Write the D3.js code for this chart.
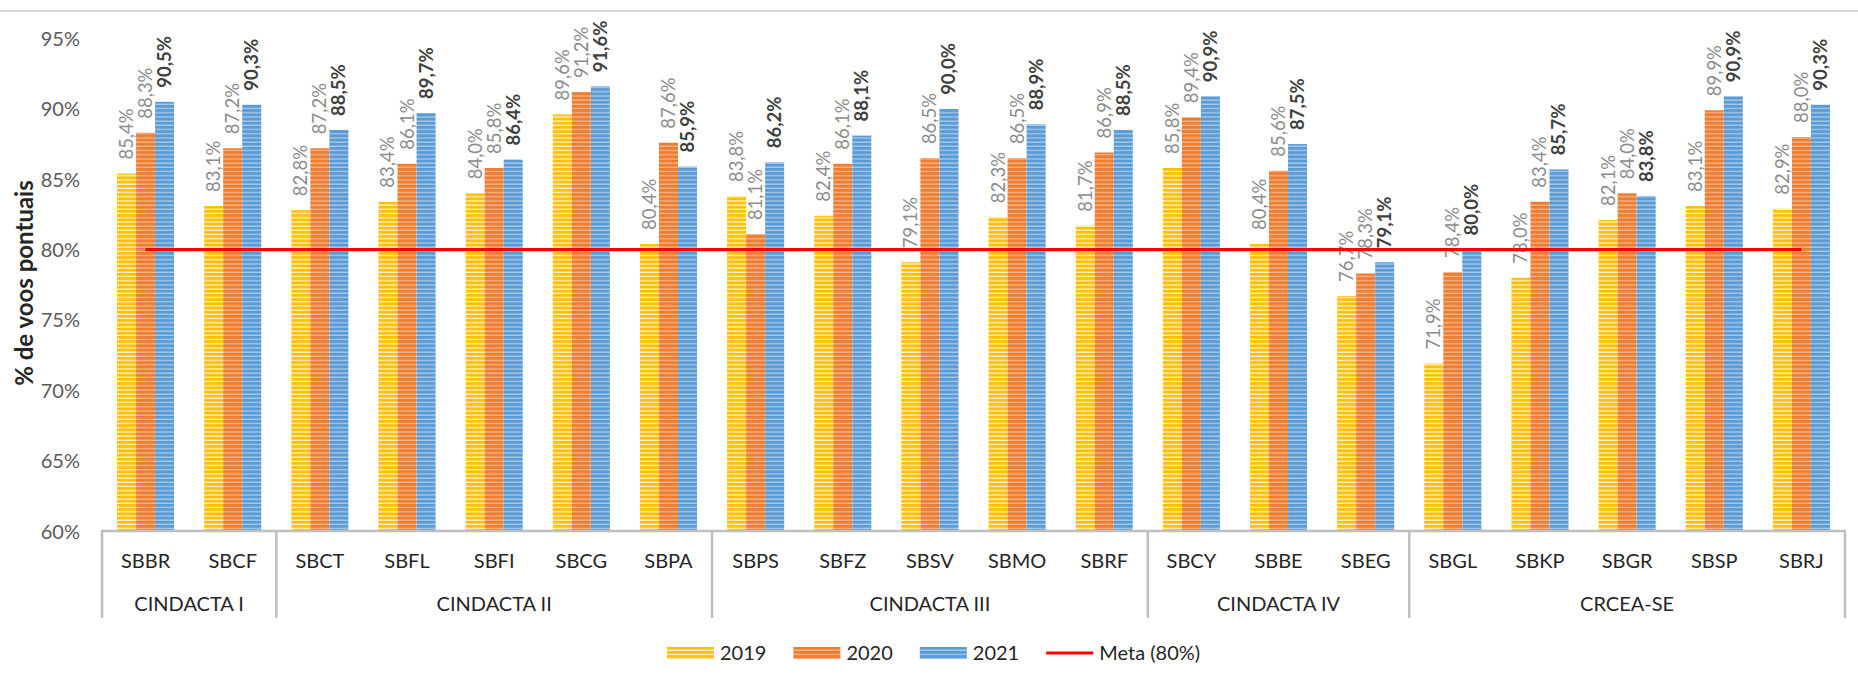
<!DOCTYPE html>
<html>
<head>
<meta charset="utf-8">
<script src="https://cdn.jsdelivr.net/npm/d3@7"></script>
<style>
  html, body { margin: 0; padding: 0; background: #ffffff; }
  svg { display: block; }
  text { font-family: Lato, "Noto Sans", sans-serif; }
</style>
</head>
<body>
<svg id="chart" width="1858" height="685"></svg>
<script>
// ---- data ----
const categories = ["SBBR","SBCF","SBCT","SBFL","SBFI","SBCG","SBPA","SBPS","SBFZ","SBSV","SBMO","SBRF","SBCY","SBBE","SBEG","SBGL","SBKP","SBGR","SBSP","SBRJ"];
const groupNames = ["CINDACTA I","CINDACTA II","CINDACTA III","CINDACTA IV","CRCEA-SE"];
const groupSizes = [2, 5, 5, 3, 5];
const seriesNames = ["2019","2020","2021"];
const values2019 = [85.4,83.1,82.8,83.4,84.0,89.6,80.4,83.8,82.4,79.1,82.3,81.7,85.8,80.4,76.7,71.9,78.0,82.1,83.1,82.9];
const values2020 = [88.3,87.2,87.2,86.1,85.8,91.2,87.6,81.1,86.1,86.5,86.5,86.9,89.4,85.6,78.3,78.4,83.4,84.0,89.9,88.0];
const values2021 = [90.5,90.3,88.5,89.7,86.4,91.6,85.9,86.2,88.1,90.0,88.9,88.5,90.9,87.5,79.1,80.0,85.7,83.8,90.9,90.3];
const metaValue = 80;
const metaLabel = "Meta (80%)";
const yTicks = [60,65,70,75,80,85,90,95];
const yTitle = "% de voos pontuais";

// ---- styles ----
const seriesColors = ["#FFC000","#ED7D31","#5B9BD5"];
const stripeColors = ["#FFF3CF","#F6B48A","#A9CBEA"];

const svg = d3.select("#chart");
const defs = svg.append("defs");
seriesNames.forEach((s, i) => {
  const p = defs.append("pattern").attr("id", "pat" + i)
    .attr("patternUnits", "userSpaceOnUse").attr("width", 8).attr("height", 4.2);
  p.append("rect").attr("width", 8).attr("height", 4.2).attr("fill", stripeColors[i]);
  p.append("rect").attr("width", 8).attr("height", 2.9).attr("fill", seriesColors[i]);
});

// top frame line
svg.append("line").attr("x1", 0).attr("x2", 1858).attr("y1", 11).attr("y2", 11)
  .attr("stroke", "#d9d9d9").attr("stroke-width", 2);

const x = d3.scaleBand().domain(categories).range([102, 1845]).paddingInner(0).paddingOuter(0);
const xs = d3.scaleBand().domain(seriesNames).range([0, x.bandwidth()]).paddingInner(0).paddingOuter(0.79);
const y = d3.scaleLinear().domain([60, 95]).range([531, 38.5]);

const table = categories.map((c, i) => ({ cat: c, vals: [values2019[i], values2020[i], values2021[i]] }));

// y tick labels
const yAxis = d3.axisLeft(y).tickValues(yTicks).tickSize(0).tickPadding(0)
  .tickFormat(d => d + "%");
const gy = svg.append("g").attr("transform", "translate(80,0)").call(yAxis);
gy.select(".domain").remove();
gy.selectAll("text").attr("font-size", 20).attr("fill", "#595959")
  .attr("font-family", "Lato, 'Noto Sans', sans-serif").attr("dy", "0.35em");

// y title
svg.append("text").attr("transform", "translate(25,283) rotate(-90)")
  .attr("text-anchor", "middle").attr("dy", "0.35em")
  .attr("font-size", 24).attr("font-weight", "bold").attr("fill", "#262626")
  .text(yTitle);

// bars
const gBars = svg.append("g");
const catG = gBars.selectAll("g.cat").data(table).join("g")
  .attr("transform", d => `translate(${x(d.cat)},0)`);
catG.selectAll("rect").data(d => d.vals.map((v, i) => ({ v, i }))).join("rect")
  .attr("x", d => xs(seriesNames[d.i]))
  .attr("width", xs.bandwidth())
  .attr("y", d => y(d.v))
  .attr("height", d => y(60) - y(d.v))
  .attr("fill", d => `url(#pat${d.i})`);

// data labels
const fmt = v => v.toFixed(1).replace(".", ",") + "%";
catG.selectAll("text").data(d => d.vals.map((v, i) => ({ v, i }))).join("text")
  .attr("transform", d => `translate(${xs(seriesNames[d.i]) + xs.bandwidth() / 2},${y(d.v) - 14}) rotate(-90)`)
  .attr("dy", "0.35em")
  .attr("font-size", 18.5)
  .attr("font-weight", d => d.i === 2 ? "bold" : "normal")
  .attr("fill", d => d.i === 2 ? "#404040" : "#8c8c8c")
  .text(d => fmt(d.v));

// x axis
const xAxisY = y(60);
svg.append("line").attr("x1", 102).attr("x2", 1845).attr("y1", xAxisY).attr("y2", xAxisY)
  .attr("stroke", "#bfbfbf").attr("stroke-width", 2.5);
const gx = svg.append("g").attr("transform", `translate(0,${xAxisY})`)
  .call(d3.axisBottom(x).tickSize(0).tickPadding(0));
gx.select(".domain").remove();
gx.selectAll("text").attr("y", 30).attr("dy", "0.35em").attr("font-size", 20)
  .attr("fill", "#262626").attr("font-family", "Lato, 'Noto Sans', sans-serif");

// group separators and labels
let idx = 0;
const bounds = [0];
groupSizes.forEach(n => { idx += n; bounds.push(idx); });
const step = x.step();
bounds.forEach(b => {
  const bx = 102 + b * step;
  svg.append("line").attr("x1", bx).attr("x2", bx).attr("y1", xAxisY - 1).attr("y2", 618)
    .attr("stroke", "#bfbfbf").attr("stroke-width", 2.5);
});
groupNames.forEach((g, i) => {
  const cx = 102 + (bounds[i] + bounds[i + 1]) / 2 * step;
  svg.append("text").attr("x", cx).attr("y", 604).attr("dy", "0.35em")
    .attr("text-anchor", "middle").attr("font-size", 20).attr("fill", "#262626").text(g);
});

// meta line
const line = d3.line().x(d => x(d) + x.bandwidth() / 2).y(() => y(metaValue));
svg.append("path").datum(categories).attr("d", line)
  .attr("fill", "none").attr("stroke", "#FF0000").attr("stroke-width", 3.2);

// legend
const leg = svg.append("g");
let lx = 667;
const ly = 653;
const legItems = seriesNames.map((s, i) => ({ label: s, i })).concat([{ label: metaLabel, i: 3 }]);
legItems.forEach(it => {
  if (it.i < 3) {
    leg.append("rect").attr("x", lx).attr("y", ly - 6).attr("width", 47).attr("height", 12)
      .attr("fill", `url(#pat${it.i})`);
  } else {
    leg.append("line").attr("x1", lx).attr("x2", lx + 47).attr("y1", ly).attr("y2", ly)
      .attr("stroke", "#FF0000").attr("stroke-width", 3);
  }
  const t = leg.append("text").attr("x", lx + 53).attr("y", ly).attr("dy", "0.35em")
    .attr("font-size", 20).attr("fill", "#262626").text(it.label);
  lx += 53 + t.node().getComputedTextLength() + 27;
});
</script>
</body>
</html>
